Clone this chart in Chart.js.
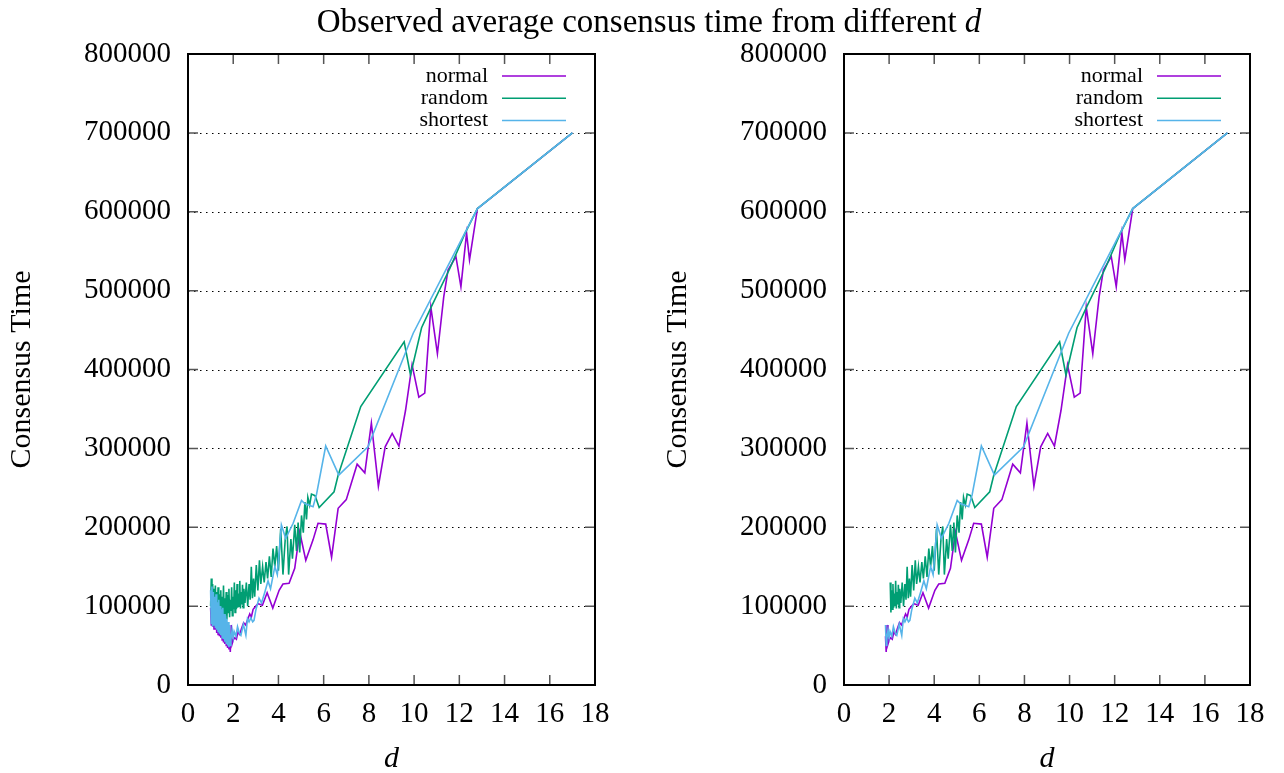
<!DOCTYPE html>
<html>
<head>
<meta charset="utf-8">
<script src="https://cdn.jsdelivr.net/npm/chart.js@4.4.1/dist/chart.umd.min.js"></script>
<style>
  body { margin: 0; background: #fff; }
  #wrap { position: relative; width: 1284px; height: 773px; overflow: hidden; }
  #title { position: absolute; top: 3px; left: 0; width: 1298px; text-align: center;
           font-family: 'Liberation Serif', serif; font-size: 33px; color: #000; z-index: 2; }
  canvas { position: absolute; top: 0; }
</style>
</head>
<body>
<div id="wrap">
  <div id="title">Observed average consensus time from different <i>d</i></div>
  <canvas id="left" width="642" height="773" style="left:0"></canvas>
  <canvas id="right" width="628" height="773" style="left:656px"></canvas>
</div>
<script>
// series names + colours (gnuplot defaults)
const seriesNames = ['normal', 'random', 'shortest'];
const seriesColors = ['#9400d3', '#009e73', '#56b4e9'];

// axis ranges
const xMin = 0, xMax = 18, xStep = 2;
const yMin = 0, yMax = 800000, yStep = 100000;

// right panel only shows the larger d values
const rightFrom = [1.83, 2.04, 1.83];

// normal
const normalD = [1.00, 1.03, 1.06, 1.09, 1.12, 1.15, 1.18, 1.21, 1.24, 1.27, 1.30, 1.33, 1.36, 1.39, 1.42,
  1.45, 1.48, 1.51, 1.54, 1.57, 1.60, 1.63, 1.66, 1.69, 1.72, 1.75, 1.78, 1.81, 1.84, 1.87,
  1.91, 1.95, 2.00, 2.07, 2.14, 2.21, 2.29, 2.36, 2.46, 2.55, 2.65, 2.73, 2.80, 2.88, 3.00,
  3.10, 3.29, 3.50, 3.75, 4.03, 4.20, 4.47, 4.72, 4.94, 5.21, 5.53, 5.75, 6.09, 6.35, 6.64,
  7.00, 7.48, 7.82, 8.11, 8.42, 8.72, 9.03, 9.33, 9.62, 9.91, 10.21, 10.47, 10.74, 11.03, 11.31,
  11.50, 11.85, 12.07, 12.32, 12.45, 12.80, 17.00];
const normalT = [98000, 76000, 108000, 74000, 95000, 71000, 102000, 70000, 90000, 66000, 93000, 64000, 85000, 62000, 88000,
  60000, 80000, 57000, 82000, 54000, 74000, 52000, 76000, 50000, 68000, 47000, 66000, 45000, 62000, 42000,
  76000, 52000, 57000, 60000, 58000, 67000, 64000, 71000, 79000, 76000, 84000, 90000, 86000, 96000, 100000,
  103000, 101000, 117000, 97500, 120000, 128000, 129000, 148000, 194000, 158000, 184000, 205000, 204000, 162000, 224000,
  235000, 280000, 269000, 332000, 252000, 302000, 319000, 303000, 348000, 406000, 365000, 370000, 479000, 420000, 492000,
  526000, 543000, 505000, 573000, 539000, 604000, 700000];

// random
const randomD = [1.00, 1.03, 1.06, 1.09, 1.12, 1.15, 1.18, 1.21, 1.24, 1.27, 1.30, 1.33, 1.36, 1.39, 1.42,
  1.45, 1.48, 1.51, 1.54, 1.57, 1.60, 1.63, 1.66, 1.69, 1.72, 1.75, 1.78, 1.81, 1.84, 1.87,
  1.90, 1.93, 1.96, 1.99, 2.02, 2.05, 2.08, 2.11, 2.14, 2.17, 2.20, 2.23, 2.26, 2.29, 2.32,
  2.35, 2.38, 2.41, 2.44, 2.47, 2.52, 2.58, 2.64, 2.70, 2.75, 2.80, 2.85, 2.90, 2.95, 3.02,
  3.09, 3.16, 3.22, 3.30, 3.37, 3.45, 3.52, 3.60, 3.68, 3.76, 3.84, 3.92, 4.00, 4.10, 4.20,
  4.30, 4.38, 4.45, 4.55, 4.62, 4.72, 4.80, 4.87, 4.94, 5.02, 5.10, 5.17, 5.24, 5.30, 5.38,
  5.46, 5.62, 5.80, 6.46, 6.64, 7.64, 9.56, 9.84, 10.33, 10.77, 11.58, 12.24, 12.80, 17.00];
const randomT = [100000, 135000, 104000, 128000, 98000, 122000, 95000, 126000, 92000, 118000, 88000, 124000, 90000, 115000, 86000,
  120000, 84000, 112000, 88000, 126000, 85000, 110000, 90000, 118000, 83000, 114000, 92000, 122000, 86000, 108000,
  94000, 124000, 88000, 112000, 96000, 130000, 92000, 120000, 96000, 128000, 98000, 116000, 100000, 132000, 97000,
  118000, 102000, 127000, 98000, 122000, 104000, 130000, 100000, 128000, 108000, 150000, 110000, 135000, 112000, 152000,
  120000, 158000, 128000, 150000, 130000, 156000, 135000, 163000, 137000, 173000, 150000, 176000, 145000, 198000, 140000,
  185000, 201000, 140000, 185000, 160000, 203000, 170000, 206000, 168000, 215000, 193000, 232000, 210000, 238000, 228000,
  242000, 240000, 225000, 245000, 266000, 353000, 435000, 393000, 453000, 480000, 528000, 572000, 604000, 700000];

// shortest
const shortestD = [1.00, 1.03, 1.06, 1.09, 1.12, 1.15, 1.18, 1.21, 1.24, 1.27, 1.30, 1.33, 1.36, 1.39, 1.42,
  1.45, 1.48, 1.51, 1.54, 1.57, 1.60, 1.63, 1.66, 1.69, 1.72, 1.75, 1.78, 1.81, 1.84, 1.87,
  1.90, 1.95, 2.00, 2.04, 2.12, 2.19, 2.27, 2.34, 2.45, 2.56, 2.63, 2.70, 2.78, 2.86, 2.92,
  3.00, 3.14, 3.25, 3.40, 3.54, 3.65, 3.84, 3.95, 4.13, 4.32, 4.65, 5.02, 5.16, 5.53, 5.68,
  6.09, 6.67, 7.96, 9.96, 12.80, 17.00];
const shortestT = [120000, 78000, 125000, 74000, 118000, 76000, 112000, 72000, 115000, 70000, 105000, 68000, 108000, 65000, 100000,
  63000, 96000, 60000, 98000, 58000, 90000, 55000, 88000, 53000, 84000, 50000, 80000, 48000, 76000, 50000,
  58000, 70000, 60000, 68000, 62000, 74000, 66000, 63000, 77000, 63000, 84000, 80000, 85000, 80000, 82000,
  95000, 110000, 104000, 118000, 132000, 122000, 150000, 140000, 203000, 186000, 205000, 234000, 230000, 226000, 241000,
  303000, 266000, 302000, 446000, 604000, 700000];

const allD = [normalD, randomD, shortestD];
const allT = [normalT, randomT, shortestT];

const serif = "'Liberation Serif', 'Times New Roman', serif";

function points(ds, ts, from) {
  return ds.map((d, i) => ({ x: d, y: ts[i] })).filter(p => p.x >= from);
}

// gnuplot-like frame: dotted grid, inward ticks, border, key
const frame = {
  id: 'frame',
  beforeDatasetsDraw(chart) {
    const { ctx, chartArea: a, scales: { y } } = chart;
    ctx.save();
    ctx.strokeStyle = '#000';
    ctx.lineWidth = 1;
    ctx.setLineDash([1.5, 4.5]);
    y.ticks.forEach(t => {
      if (t.value <= y.min || t.value >= y.max) return;
      const py = Math.round(y.getPixelForValue(t.value)) + 0.5;
      ctx.beginPath(); ctx.moveTo(a.left, py); ctx.lineTo(a.right, py); ctx.stroke();
    });
    ctx.restore();
  },
  afterDatasetsDraw(chart) {
    const { ctx, chartArea: a, scales: { x, y } } = chart;
    ctx.save();
    ctx.strokeStyle = '#555';
    ctx.lineWidth = 1.5;
    const len = 10;
    x.ticks.forEach(t => {
      if (t.value <= x.min || t.value >= x.max) return;
      const px = x.getPixelForValue(t.value);
      ctx.beginPath();
      ctx.moveTo(px, a.bottom); ctx.lineTo(px, a.bottom - len);
      ctx.moveTo(px, a.top); ctx.lineTo(px, a.top + len);
      ctx.stroke();
    });
    y.ticks.forEach(t => {
      if (t.value <= y.min || t.value >= y.max) return;
      const py = y.getPixelForValue(t.value);
      ctx.beginPath();
      ctx.moveTo(a.left, py); ctx.lineTo(a.left + len, py);
      ctx.moveTo(a.right, py); ctx.lineTo(a.right - len, py);
      ctx.stroke();
    });
    ctx.strokeStyle = '#000';
    ctx.lineWidth = 2;
    ctx.strokeRect(a.left, a.top, a.right - a.left, a.bottom - a.top);

    // key, top right
    ctx.font = '22px ' + serif;
    ctx.textAlign = 'right';
    ctx.textBaseline = 'middle';
    ctx.fillStyle = '#000';
    ctx.lineWidth = 1.5;
    seriesNames.forEach((name, i) => {
      const ky = a.top + 22 + i * 22.2;
      ctx.fillText(name, a.right - 107, ky);
      ctx.strokeStyle = seriesColors[i];
      ctx.beginPath(); ctx.moveTo(a.right - 93, ky); ctx.lineTo(a.right - 29, ky); ctx.stroke();
    });
    ctx.restore();
  }
};

function makeChart(id, fromList, padRight) {
  const datasets = seriesNames.map((name, i) => ({
    label: name,
    data: points(allD[i], allT[i], fromList[i]),
    borderColor: seriesColors[i],
    borderWidth: 1.6,
    pointRadius: 0,
    fill: false,
    tension: 0,
    order: 3 - i
  }));
  return new Chart(document.getElementById(id), {
    type: 'line',
    data: { datasets },
    options: {
      responsive: false,
      animation: false,
      devicePixelRatio: 1,
      layout: { padding: { left: 0, right: padRight, top: 54, bottom: 0 } },
      plugins: { legend: { display: false }, tooltip: { enabled: false } },
      scales: {
        x: {
          type: 'linear', min: xMin, max: xMax,
          ticks: { stepSize: xStep, color: '#000', font: { family: serif, size: 29 }, padding: 12, maxRotation: 0 },
          grid: { display: false, drawTicks: false },
          border: { display: false },
          title: { display: true, text: 'd', color: '#000', font: { family: serif, size: 30, style: 'italic', lineHeight: 0.8 }, padding: { top: 0, bottom: 2 } },
          afterFit: s => { s.height = 88; }
        },
        y: {
          type: 'linear', min: yMin, max: yMax,
          ticks: { stepSize: yStep, color: '#000', font: { family: serif, size: 29 }, padding: 17, callback: v => String(v) },
          grid: { display: false, drawTicks: false },
          border: { display: false },
          title: { display: true, text: 'Consensus Time', color: '#000', font: { family: serif, size: 30, lineHeight: 1.2 }, padding: { top: 4, bottom: 0 } },
          afterFit: s => { s.width = 188; }
        }
      }
    },
    plugins: [frame]
  });
}

makeChart('left', [0, 0, 0], 47);
makeChart('right', rightFrom, 34);
</script>
</body>
</html>
